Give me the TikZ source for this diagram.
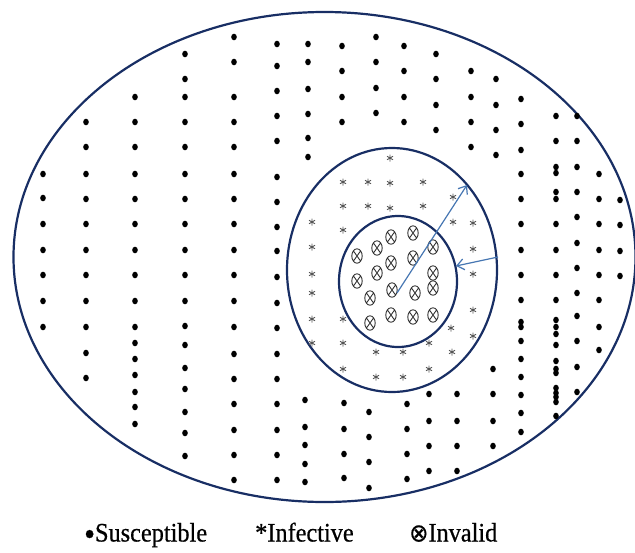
\documentclass[tikz,border=0pt]{standalone}
\usepackage{fontspec}
\setmainfont{Liberation Serif}
\newfontfamily\legfont[FakeBold=0.6]{Liberation Serif}
\newfontfamily\symfont[FakeBold=0.4]{DejaVu Sans}
\usetikzlibrary{arrows.meta}
\definecolor{ringblue}{RGB}{24,46,100}
\definecolor{arrowblue}{RGB}{70,118,178}
\definecolor{astgray}{RGB}{85,85,85}
\definecolor{invgray}{RGB}{50,50,50}
\tikzset{
  ring/.style={draw=ringblue, line width=2.2pt},
  radiusarrow/.style={draw=arrowblue, line width=1.2pt, -{Straight Barb[length=7pt,width=11pt,line width=1.2pt]}},
  sdot/.style={fill=black},
  astline/.style={draw=astgray, line width=0.9pt},
  invline/.style={draw=invgray, line width=0.9pt},
  legend/.style={font=\legfont\fontsize{24.3}{26}\selectfont, inner sep=0pt, anchor=base west},
  ast/.pic={\draw[astline] (0,-3.5)--(0,3.5) (-3.0,-1.75)--(3.0,1.75) (-3.0,1.75)--(3.0,-1.75);},
  inv/.pic={\draw[invline] (0,0) ellipse[x radius=5.2, y radius=7.2]
     (-3.6,-5.1)--(3.6,5.1) (-3.6,5.1)--(3.6,-5.1);}
}
\begin{document}
\begin{tikzpicture}[x=1pt,y=-1pt]
\useasboundingbox (0,0) rectangle (635,552);
% rings
\draw[ring] (324.5,257) ellipse[x radius=311, y radius=245];
\draw[ring] (392,270) ellipse[x radius=105, y radius=122];
\draw[ring] (398,281.5) ellipse[x radius=59, y radius=65.5];
% susceptible dots
\foreach \x/\ys in {
  43/{174,198,224,250,275,301,327},
  86/{122,147,174,199,224,250,275,301,327,353,378},
  135/{97,122,147,174,199,224,250,275,301,327,343,359,375,392,407,424},
  185/{54,79,97,122,147,174,199,224,250,275,301,326,345,368,389,412,433,456},
  234/{37,62,97,122,147,174,199,224,250,275,301,327,354,379,404,430,455,480},
  277/{44,66,91,116,141,177,202,227,251,277,303,328,354,379,404,430,455,480},
  308/{44,62,89,114,138,157},
  305/{400,427,445,464,482},
  342/{46,71,97,122},
  344/{403,429,454,478},
  369/{412,437,462,488},
  376/{37,62,88,113},
  404/{46,71,97,122},
  407/{404,429,454,479},
  429/{394,421,446,471},
  436/{54,79,105,130},
  457/{394,421,446,471},
  471/{71,97,122,147},
  493/{369,394,421,446},
  496/{79,105,130,155},
  521/{99,124,150,174,199,224,250,275,300,322,327,341,359,377,395,413,432},
  556/{116,141,167,173,192,199,224,250,275,300,320,327,334,345,361,369,373,388,393,397,402,416},
  577/{116,141,167,192,217,243,268,293,316,341,367,392},
  599/{174,199,224,250,275,300,327,350},
  620/{200,225,251,276}}{
  \foreach \y in \ys { \fill[sdot] (\x,\y) ellipse[x radius=2.8, y radius=3.3]; }
}
% infective
\foreach \x/\y in {390/158, 343/182, 368/182, 390/183, 423/182,
  343/206, 368/206, 390/208, 423/206, 453/197,
  312/222, 343/230, 453/222, 473/223, 312/247, 473/249, 312/274, 473/274, 312/293,
  312/319, 343/319, 473/310, 451/328, 473/336,
  312/343, 343/343, 376/352, 403/352, 429/343, 452/352,
  343/369, 376/377, 403/377, 429/369}{
  \pic at (\x,\y) {ast};
}
% invalid
\foreach \x/\y in {391/237, 413/233, 377/248, 433/247, 357/256, 391/263, 413/258,
  377/273, 433/273, 357/281, 392/290, 415/293, 433/288, 370/298,
  391/315, 413/317, 433/315, 370/323}{
  \pic at (\x,\y) {inv};
}
% radius arrows
\coordinate (c1) at (397,293);
\coordinate (r1) at (467,185);
\coordinate (r2) at (498,257);
\coordinate (r3) at (456,266);
\draw[radiusarrow] (c1) -- (r1);
\draw[radiusarrow] (r2) -- (r3);
% legend
\node[legend] (sus) at (84,541.5) {\scalebox{1}[1.1]{\raisebox{-3.5pt}{\fontsize{31}{31}\selectfont •}Susceptible}};
\node[legend] (inf) at (255,541.5) {\scalebox{1}[1.1]{*Infective}};
\node[legend] (inv) at (409,541.5) {\scalebox{1}[1.1]{{\symfont\fontsize{23}{24}\selectfont ⊗}Invalid}};
\end{tikzpicture}
\end{document}
